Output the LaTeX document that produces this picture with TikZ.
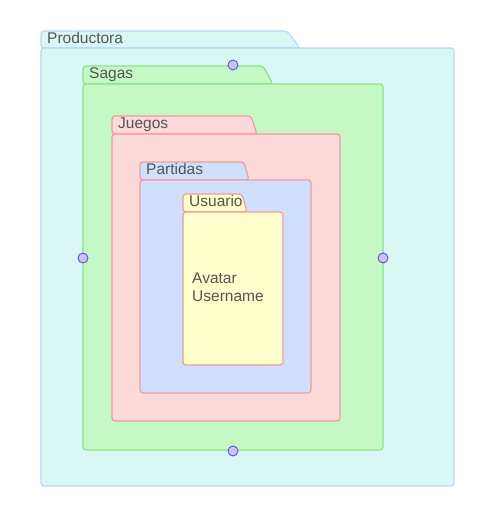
\documentclass[tikz,border=0pt]{standalone}
\usepackage{fontspec}
\setmainfont{Liberation Sans}
\usepackage{xcolor}
\usetikzlibrary{positioning}

\definecolor{prodfill}{HTML}{D9F8F4}
\definecolor{proddraw}{HTML}{BCD6F7}
\definecolor{sagafill}{HTML}{C6F8C6}
\definecolor{sagadraw}{HTML}{8EE08E}
\definecolor{juegofill}{HTML}{FCDADA}
\definecolor{pinkdraw}{HTML}{F59A9A}
\definecolor{partfill}{HTML}{D0E0FC}
\definecolor{userfill}{HTML}{FFFECC}
\definecolor{textgray}{HTML}{555555}
\definecolor{dotfill}{HTML}{C8C4FA}
\definecolor{dotdraw}{HTML}{5B52D9}

% folder: style, left, tab top, slant start, slant end, body top, right, bottom
\newcommand{\drawfolder}[8]{
  \draw[#1] (#2,#6) -- (#2,#3) -- (#4,#3) -- (#5,#6) -- cycle;
  \draw[#1] (#2,#6) rectangle (#7,#8);
}

\begin{document}
\begin{tikzpicture}[x=1pt,y=-1pt,
	  every node/.style={font=\fontsize{15.5}{18.5}\selectfont,text=textgray,inner sep=0pt},
	  productora/.style={fill=prodfill,draw=proddraw,line width=1.2pt,rounded corners=3pt},
	  sagas/.style={fill=sagafill,draw=sagadraw,line width=1.2pt,rounded corners=3pt},
	  juegos/.style={fill=juegofill,draw=pinkdraw,line width=1.2pt,rounded corners=3pt},
	  partidas/.style={fill=partfill,draw=pinkdraw,line width=1.2pt,rounded corners=3pt},
	  usuario/.style={fill=userfill,draw=pinkdraw,line width=1.2pt,rounded corners=3pt},
	  label/.style={anchor=base west},
	  port/.style={circle,fill=dotfill,draw=dotdraw,line width=0.9pt,minimum size=10pt}]
	  \useasboundingbox (0,0) rectangle (481,519);

	  % Nested folders
	  \drawfolder{productora}{41}{31}{287}{300}{48}{454}{486}
	  \drawfolder{sagas}{83}{66}{263}{273}{84}{383}{450}
	  \drawfolder{juegos}{112}{116}{251}{257}{134}{340}{421}
	  \drawfolder{partidas}{140}{162}{244}{249}{180}{311}{393}
	  \drawfolder{usuario}{183}{194}{242}{247}{212}{283}{365}

	  \node[label] (productora) at (47,43.5) {Productora};
	  \node[label] (sagas) at (89,78.5) {Sagas};
	  \node[label] (juegos) at (118,128.5) {Juegos};
	  \node[label] (partidas) at (146,174.5) {Partidas};
	  \node[label] (usuario) at (189,206.5) {Usuario};
	  \node[label] (avatar) at (192,283) {Avatar};
	  \node[label,below=0pt of avatar.base west,anchor=base west,yshift=-18pt] (username) {Username};

	  % Connection points on Sagas
	  \node[port] (top) at (233,65) {};
	  \node[port] (left) at (83,258) {};
	  \node[port] (right) at (383,258) {};
	  \node[port] (bottom) at (233,451) {};
\end{tikzpicture}
\end{document}
